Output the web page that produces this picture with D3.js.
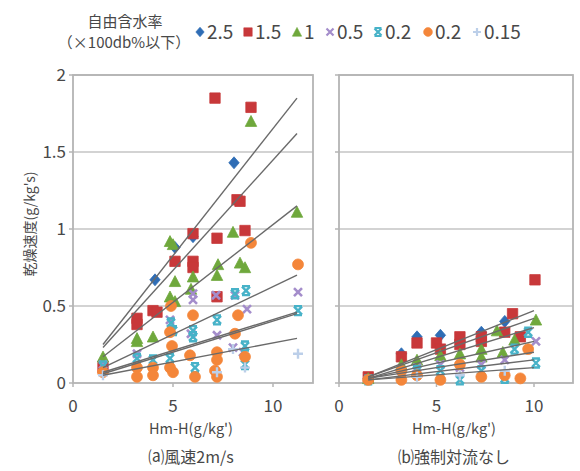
<!DOCTYPE html>
<html>
<head>
<meta charset="utf-8">
<script src="https://cdn.jsdelivr.net/npm/d3@7"></script>
<style>
body { margin: 0; background: #fff; }
text { font-family: "Noto Sans CJK JP", "Noto Sans", sans-serif; fill: #484848; }
</style>
</head>
<body>
<div id="chart"></div>
<script>
// legend / series
var seriesNames  = ["2.5", "1.5", "1", "0.5", "0.2", "0.2", "0.15"];
var seriesColors = ["#2f6db5", "#c8383a", "#6fa83c", "#a48dcb", "#47b2c8", "#f4863a", "#bccfe9"];
var seriesShapes = ["diamond", "square", "triangle", "x", "star", "circle", "plus"];

var yTicks = [0, 0.5, 1, 1.5, 2];
var xTicks = [0, 5, 10];

// (a) wind 2m/s  -- [Hm-H, drying rate]
var a25  = [[1.5,0.14],[4.1,0.67],[5.1,0.88],[6.0,0.95],[8.05,1.43]];
var a15  = [[1.5,0.10],[3.2,0.42],[3.2,0.38],[4.0,0.47],[4.2,0.46],[5.1,0.79],[6.0,0.97],[6.0,0.79],[6.0,0.75],
            [7.1,1.85],[7.2,0.94],[7.2,0.56],[8.2,1.19],[8.35,1.18],[8.6,0.99],[8.9,1.79]];
var a1   = [[1.5,0.17],[3.2,0.29],[3.2,0.27],[4.0,0.30],[4.85,0.92],[5.0,0.90],[5.1,0.66],[4.85,0.56],[5.1,0.53],
            [5.9,0.61],[6.0,0.69],[7.2,0.70],[7.25,0.77],[8.0,0.98],[8.35,0.78],[8.6,0.75],[8.9,1.70],[11.2,1.11]];
var a05  = [[1.5,0.12],[3.2,0.19],[4.85,0.41],[5.9,0.32],[6.0,0.58],[6.0,0.54],[7.15,0.57],[7.2,0.31],[8.1,0.57],
            [8.0,0.23],[8.5,0.20],[8.7,0.48],[11.25,0.59]];
var a02s = [[1.5,0.11],[3.2,0.16],[4.0,0.15],[4.9,0.39],[5.0,0.34],[4.85,0.16],[6.0,0.34],[6.0,0.30],[6.1,0.10],
            [7.2,0.41],[8.1,0.58],[8.65,0.60],[8.6,0.24],[8.6,0.12],[11.25,0.47]];
var a02c = [[1.5,0.07],[3.2,0.10],[3.2,0.04],[4.0,0.10],[4.0,0.05],[4.9,0.50],[4.85,0.33],[4.95,0.24],[4.85,0.10],
            [5.0,0.07],[6.0,0.44],[5.85,0.18],[6.1,0.04],[7.2,0.20],[7.2,0.15],[7.1,0.08],[7.2,0.04],[8.25,0.44],
            [8.1,0.32],[8.6,0.17],[8.9,0.91],[11.25,0.77]];
var a015 = [[1.5,0.05],[7.2,0.07],[8.6,0.10],[11.25,0.19],[8.0,0.22]];
var fitAx = [1.5, 11.2];
var fitA  = [[0.25,1.85],[0.23,1.62],[0.17,1.15],[0.10,0.70],[0.07,0.46],[0.06,0.45],[0.05,0.29]];

// (b) no forced convection
var b25  = [[1.5,0.03],[3.2,0.19],[4.0,0.30],[5.2,0.31],[6.2,0.27],[7.3,0.33],[8.5,0.40]];
var b15  = [[1.5,0.04],[3.2,0.17],[4.0,0.26],[5.0,0.26],[5.2,0.22],[6.2,0.30],[6.2,0.25],[7.3,0.27],[7.3,0.30],
            [8.5,0.33],[8.9,0.45],[9.3,0.30],[10.05,0.67]];
var b1   = [[1.5,0.03],[3.2,0.12],[4.0,0.15],[5.2,0.18],[6.2,0.19],[7.3,0.17],[7.3,0.22],[8.1,0.34],[8.4,0.20],
            [9.0,0.28],[10.1,0.41]];
var b05  = [[1.5,0.02],[3.2,0.08],[4.0,0.10],[5.2,0.12],[6.2,0.10],[7.3,0.12],[8.5,0.15],[10.1,0.27]];
var b02s = [[1.5,0.02],[3.2,0.06],[4.0,0.08],[5.2,0.08],[6.2,0.02],[7.3,0.08],[8.5,0.03],[9.0,0.22],[9.7,0.33],[10.1,0.13]];
var b02c = [[1.5,0.02],[3.2,0.02],[3.2,0.08],[4.0,0.05],[5.2,0.02],[6.2,0.12],[7.3,0.04],[8.5,0.05],[9.3,0.03],[9.7,0.22]];
var b015 = [[4.0,0.04],[6.2,0.05],[8.5,0.08]];
var fitBx = [1.5, 10.0];
var fitB  = [[0.04,0.47],[0.04,0.42],[0.03,0.36],[0.03,0.27],[0.03,0.20],[0.02,0.15],[0.02,0.10]];

var width = 580, height = 471;

var svg = d3.select("#chart").append("svg")
    .attr("width", width)
    .attr("height", height);

var y = d3.scaleLinear().domain([0, 2]).range([383, 75]);

// marker shapes, s = half size
function marker(type, s) {
  switch (type) {
    case "diamond":  return "M0," + (-s*1.15) + "L" + s + ",0L0," + (s*1.15) + "L" + (-s) + ",0Z";
    case "square":   return "M" + (-s) + "," + (-s) + "h" + (2*s) + "v" + (2*s) + "h" + (-2*s) + "Z";
    case "triangle": return "M0," + (-s*1.1) + "L" + (s*1.1) + "," + s + "L" + (-s*1.1) + "," + s + "Z";
    case "circle":   return d3.symbol(d3.symbolCircle, Math.PI*s*s*1.1)();
    default: return null;
  }
}

function drawPanel(x0, x1, data, fitX, fit, title) {
  var x = d3.scaleLinear().domain([0, 12]).range([x0, x1]);
  var g = svg.append("g");

  // grid
  g.selectAll(".grid").data(yTicks.slice(1)).enter().append("line")
      .attr("x1", x0).attr("x2", x1)
      .attr("y1", function(d) { return y(d); })
      .attr("y2", function(d) { return y(d); })
      .style("stroke", "#c4c4c4").style("stroke-width", 1.6);

  // frame
  g.append("rect")
      .attr("x", x0).attr("y", y(2))
      .attr("width", x1 - x0).attr("height", y(0) - y(2))
      .style("fill", "none").style("stroke", "#b4b4b4").style("stroke-width", 1.8);

  // ticks
  g.selectAll(".xt").data(xTicks).enter().append("line")
      .attr("x1", function(d) { return x(d); }).attr("x2", function(d) { return x(d); })
      .attr("y1", y(0)).attr("y2", y(0) + 4)
      .style("stroke", "#b4b4b4").style("stroke-width", 1.5);
  g.selectAll(".yt").data(yTicks).enter().append("line")
      .attr("x1", x0 - 4).attr("x2", x0)
      .attr("y1", function(d) { return y(d); }).attr("y2", function(d) { return y(d); })
      .style("stroke", "#b4b4b4").style("stroke-width", 1.5);

  g.selectAll(".xl").data(xTicks).enter().append("text")
      .attr("x", function(d) { return x(d); })
      .attr("y", 412)
      .attr("text-anchor", "middle")
      .style("font-size", "17px")
      .text(function(d) { return d; });

  g.append("text")
      .attr("x", (x0 + x1) / 2 - 2).attr("y", 434)
      .attr("text-anchor", "middle")
      .style("font-size", "14.5px")
      .text("Hm-H(g/kg')");

  g.append("text")
      .attr("x", (x0 + x1) / 2 - 2).attr("y", 463)
      .attr("text-anchor", "middle")
      .style("font-size", "16px")
      .text(title);

  // points
  data.forEach(function(pts, i) {
    var col = seriesColors[i], shp = seriesShapes[i];
    var sel = g.append("g").selectAll("path").data(pts).enter().append("path")
        .attr("transform", function(d) { return "translate(" + x(d[0]) + "," + y(d[1]) + ")"; });
    if (shp == "x") {
      sel.attr("d", "M-4,-4L4,4M4,-4L-4,4").style("stroke", col).style("stroke-width", 2.6).style("fill", "none");
    } else if (shp == "star") {
      sel.attr("d", "M-4,-4L4,4M4,-4L-4,4M-4,-4.5h8M-4,4.5h8").style("stroke", col).style("stroke-width", 2.4).style("fill", "none");
    } else if (shp == "plus") {
      sel.attr("d", "M-5,0h10M0,-5v10").style("stroke", col).style("stroke-width", 2.4).style("fill", "none");
    } else {
      sel.attr("d", marker(shp, 5.2)).style("fill", col).style("stroke", col).style("stroke-width", 0.8);
    }
  });

  // trend lines
  g.selectAll(".fit").data(fit).enter().append("line")
      .attr("x1", x(fitX[0])).attr("x2", x(fitX[1]))
      .attr("y1", function(d) { return y(d[0]); })
      .attr("y2", function(d) { return y(d[1]); })
      .style("stroke", "#6a6a6a").style("stroke-width", 1.4);
}

drawPanel(73, 313, [a25, a15, a1, a05, a02s, a02c, a015], fitAx, fitA, "⒜風速2m/s");
drawPanel(339, 573, [b25, b15, b1, b05, b02s, b02c, b015], fitBx, fitB, "⒝強制対流なし");

// y tick labels (left panel only)
svg.selectAll(".yl").data(yTicks).enter().append("text")
    .attr("x", 66)
    .attr("y", function(d) { return y(d) + 6; })
    .attr("text-anchor", "end")
    .style("font-size", "17px")
    .text(function(d) { return d; });

svg.append("text")
    .attr("transform", "translate(35,224) rotate(-90)")
    .attr("text-anchor", "middle")
    .style("font-size", "14px")
    .text("乾燥速度(g/kg's)");

// legend
svg.append("text").attr("x", 125).attr("y", 27).attr("text-anchor", "middle")
    .style("font-size", "15px").text("自由含水率");
svg.append("text").attr("x", 124).attr("y", 48).attr("text-anchor", "middle")
    .style("font-size", "15px").text("（×100db%以下）");

var legX = [200, 248, 297, 330, 378, 428, 477];
var leg = svg.selectAll(".leg").data(seriesNames).enter().append("g")
    .attr("transform", function(d, i) { return "translate(" + legX[i] + ",32)"; });
leg.append("path")
    .attr("d", function(d, i) {
      var s = seriesShapes[i];
      if (s == "x") return "M-3.5,-3.5L3.5,3.5M3.5,-3.5L-3.5,3.5";
      if (s == "star") return "M-3.5,-3.5L3.5,3.5M3.5,-3.5L-3.5,3.5M-3.5,-4h7M-3.5,4h7";
      if (s == "plus") return "M-4,0h8M0,-4v8";
      return marker(s, 4.2);
    })
    .style("fill", function(d, i) { return ["x", "star", "plus"].indexOf(seriesShapes[i]) >= 0 ? "none" : seriesColors[i]; })
    .style("stroke", function(d, i) { return seriesColors[i]; })
    .style("stroke-width", function(d, i) { return ["x", "star", "plus"].indexOf(seriesShapes[i]) >= 0 ? 2.2 : 0.6; });
leg.append("text")
    .attr("x", 7).attr("y", 7)
    .style("font-size", "19px")
    .text(function(d) { return d; });
</script>
</body>
</html>
